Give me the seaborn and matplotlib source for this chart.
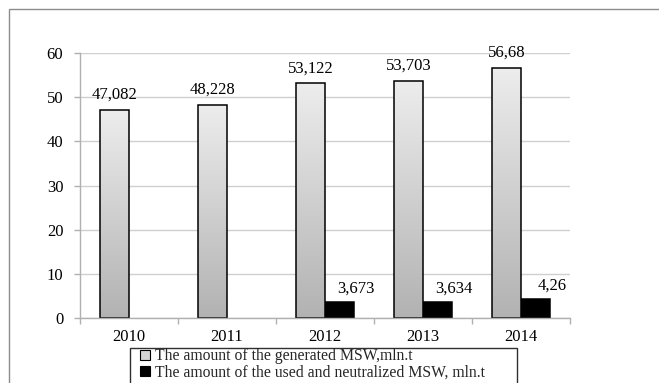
import numpy as np
import pandas as pd
import matplotlib
matplotlib.use("Agg")
import matplotlib.pyplot as plt
from matplotlib.patches import Patch, Rectangle
import seaborn as sns

years = ["2010", "2011", "2012", "2013", "2014"]
generated = [47.082, 48.228, 53.122, 53.703, 56.68]
neutralized = [np.nan, np.nan, 3.673, 3.634, 4.26]
series_names = ["The amount of the generated MSW,mln.t",
                "The amount of the used and neutralized MSW, mln.t"]
y_ticks = [0, 10, 20, 30, 40, 50, 60]

df = pd.DataFrame({
    "year": years * 2,
    "series": [series_names[0]] * len(years) + [series_names[1]] * len(years),
    "value": generated + neutralized,
})

sns.set_theme(style="white")
plt.rcParams["font.family"] = ["Liberation Serif", "DejaVu Serif"]

W, H = 659, 383
fig = plt.figure(figsize=(W / 100, H / 100), dpi=100)
ax = fig.add_axes([80 / W, 1 - 318 / H, (570 - 80) / W, (318 - 53) / H])

sns.barplot(data=df, x="year", y="value", hue="series", order=years,
            hue_order=series_names, palette=["#d9d9d9", "black"],
            width=0.59, edgecolor="black", linewidth=1.1, errorbar=None,
            legend=False, ax=ax)

ax.set_xlim(-0.5, len(years) - 0.5)
ax.set_ylim(0, 60)
ax.set_yticks(y_ticks)
ax.set_xlabel("")
ax.set_ylabel("")
ax.set_axisbelow(True)
ax.yaxis.grid(True, color="#cfcfcf", linewidth=1.0)
ax.xaxis.grid(False)
for s in ["top", "right"]:
    ax.spines[s].set_visible(False)
ax.spines["left"].set_color("#b0b0b0")
ax.spines["bottom"].set_color("#b0b0b0")
ax.spines["left"].set_linewidth(1.0)
ax.spines["bottom"].set_linewidth(1.0)

# y ticks as short outward marks; x ticks sit between categories
ax.tick_params(axis="y", which="major", left=True, length=4, width=1,
               color="#b0b0b0", labelsize=12, pad=8, labelcolor="black")
ax.set_xticks(range(len(years)))
ax.set_xticklabels(years)
ax.tick_params(axis="x", which="major", bottom=True, length=0, labelsize=12,
               pad=8, labelcolor="black")
ax.set_xticks(np.arange(-0.5, len(years)), minor=True)
ax.tick_params(axis="x", which="minor", bottom=True, length=4, width=1,
               color="#b0b0b0")

# vertical gradient fill for the generated-waste bars (light top, darker base)
grad = np.linspace(0, 1, 256).reshape(-1, 1)
cmap = matplotlib.colors.LinearSegmentedColormap.from_list(
    "bargrad", ["#ededed", "#b2b2b2"])
for bar in ax.containers[0]:
    h = bar.get_height()
    if not np.isfinite(h) or h == 0:
        continue
    x0 = bar.get_x()
    w = bar.get_width()
    img = ax.imshow(grad, extent=[x0, x0 + w, 0, h], origin="upper",
                    cmap=cmap, aspect="auto", zorder=1.5,
                    interpolation="bicubic")
    img.set_clip_path(bar)
    bar.set_facecolor("none")
    bar.set_zorder(2)
ax.set_xlim(-0.5, len(years) - 0.5)
ax.set_ylim(0, 60)


def fmt(v):
    return str(v).replace(".", ",")


def label_bars(container, values, dx, dy):
    for bar in container:
        if not np.isfinite(bar.get_height()):
            continue
        cx = bar.get_x() + bar.get_width() / 2
        v = values[int(round(cx))]
        if not np.isfinite(v):
            continue
        ax.annotate(fmt(v), (cx, bar.get_height()),
                    xytext=(dx, dy), textcoords="offset points",
                    ha="center", va="bottom", fontsize=12, color="black")


label_bars(ax.containers[0], generated, 0, 5)
label_bars(ax.containers[1], neutralized, 12, 4)

# outer chart border and legend box
fig.patches.append(Rectangle((9 / W, -0.1), 1.2, 1 - 9 / H + 0.1,
                             transform=fig.transFigure, fill=False,
                             edgecolor="#8c8c8c", linewidth=1.0))
fig.patches.append(Rectangle((130 / W, -0.1), (517 - 130) / W,
                             1 - 348 / H + 0.1, transform=fig.transFigure,
                             fill=False, edgecolor="#303030", linewidth=1.0))

handles = [Patch(facecolor="#d4d4d4", edgecolor="black", linewidth=0.8),
           Patch(facecolor="black", edgecolor="black", linewidth=0.8)]
fig.legend(handles, series_names, loc="upper left",
           bbox_to_anchor=(140 / W, 1 - 348.5 / H), frameon=False,
           fontsize=11.3, handlelength=0.65, handleheight=0.65,
           handletextpad=0.3, labelspacing=0.0, borderpad=0.0,
           borderaxespad=0)

fig.savefig("out.png", dpi=100)
